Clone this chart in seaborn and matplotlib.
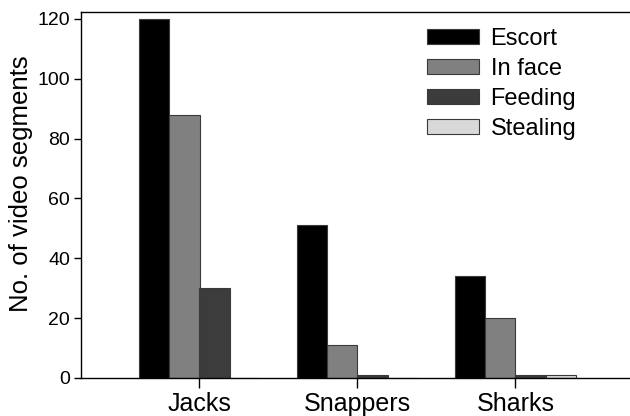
import matplotlib
matplotlib.use("Agg")
import matplotlib.pyplot as plt
import seaborn as sns
import pandas as pd

categories = ["Jacks", "Snappers", "Sharks"]
behaviours = ["Escort", "In face", "Feeding", "Stealing"]
escort = [120, 51, 34]
in_face = [88, 11, 20]
feeding = [30, 1, 1]
stealing = [0, 0, 1]
colors = ["#000000", "#808080", "#3c3c3c", "#d9d9d9"]

rows = []
for name, vals in zip(behaviours, [escort, in_face, feeding, stealing]):
    for c, v in zip(categories, vals):
        rows.append({"Group": c, "Behaviour": name, "Count": v})
df = pd.DataFrame(rows)

sns.set_style("ticks")
plt.rcParams["font.family"] = ["Liberation Sans", "DejaVu Sans"]
plt.rcParams["text.color"] = "black"
plt.rcParams["axes.labelcolor"] = "black"
plt.rcParams["xtick.color"] = "black"
plt.rcParams["ytick.color"] = "black"
plt.rcParams["axes.edgecolor"] = "black"

fig = plt.figure(figsize=(6.3, 4.16), dpi=100)
ax = fig.add_axes([81/630, 38/416, (640-81)/630, (378-12)/416])

sns.barplot(data=df, x="Group", y="Count", hue="Behaviour", order=categories,
            hue_order=behaviours, palette=colors, width=0.76, ax=ax,
            edgecolor="#3a3a3a", linewidth=0.8, saturation=1)

ax.set_xlim(-0.75, (640-199.5)/158)
ax.set_ylim(0, 122.3)
ax.set_yticks([0, 20, 40, 60, 80, 100, 120])
ax.tick_params(axis="y", labelsize=14, length=5, width=1, direction="out", pad=3)
ax.tick_params(axis="x", labelsize=18, length=7, width=1, direction="out", pad=3)
ax.set_xlabel("")
ax.set_ylabel("No. of video segments", fontsize=18.5)
ax.yaxis.set_label_coords(-0.085, 0.531)
for s in ["left", "bottom", "top"]:
    ax.spines[s].set_visible(True)
    ax.spines[s].set_linewidth(1)
ax.spines["right"].set_visible(False)

leg = ax.legend(loc="upper left", bbox_to_anchor=((427-81)/559, 1 - 16/366),
                frameon=False, fontsize=17, handlelength=2.2, handleheight=0.62,
                handletextpad=0.49, labelspacing=0.34, borderaxespad=0, borderpad=0)

fig.savefig("out.png", dpi=100)
